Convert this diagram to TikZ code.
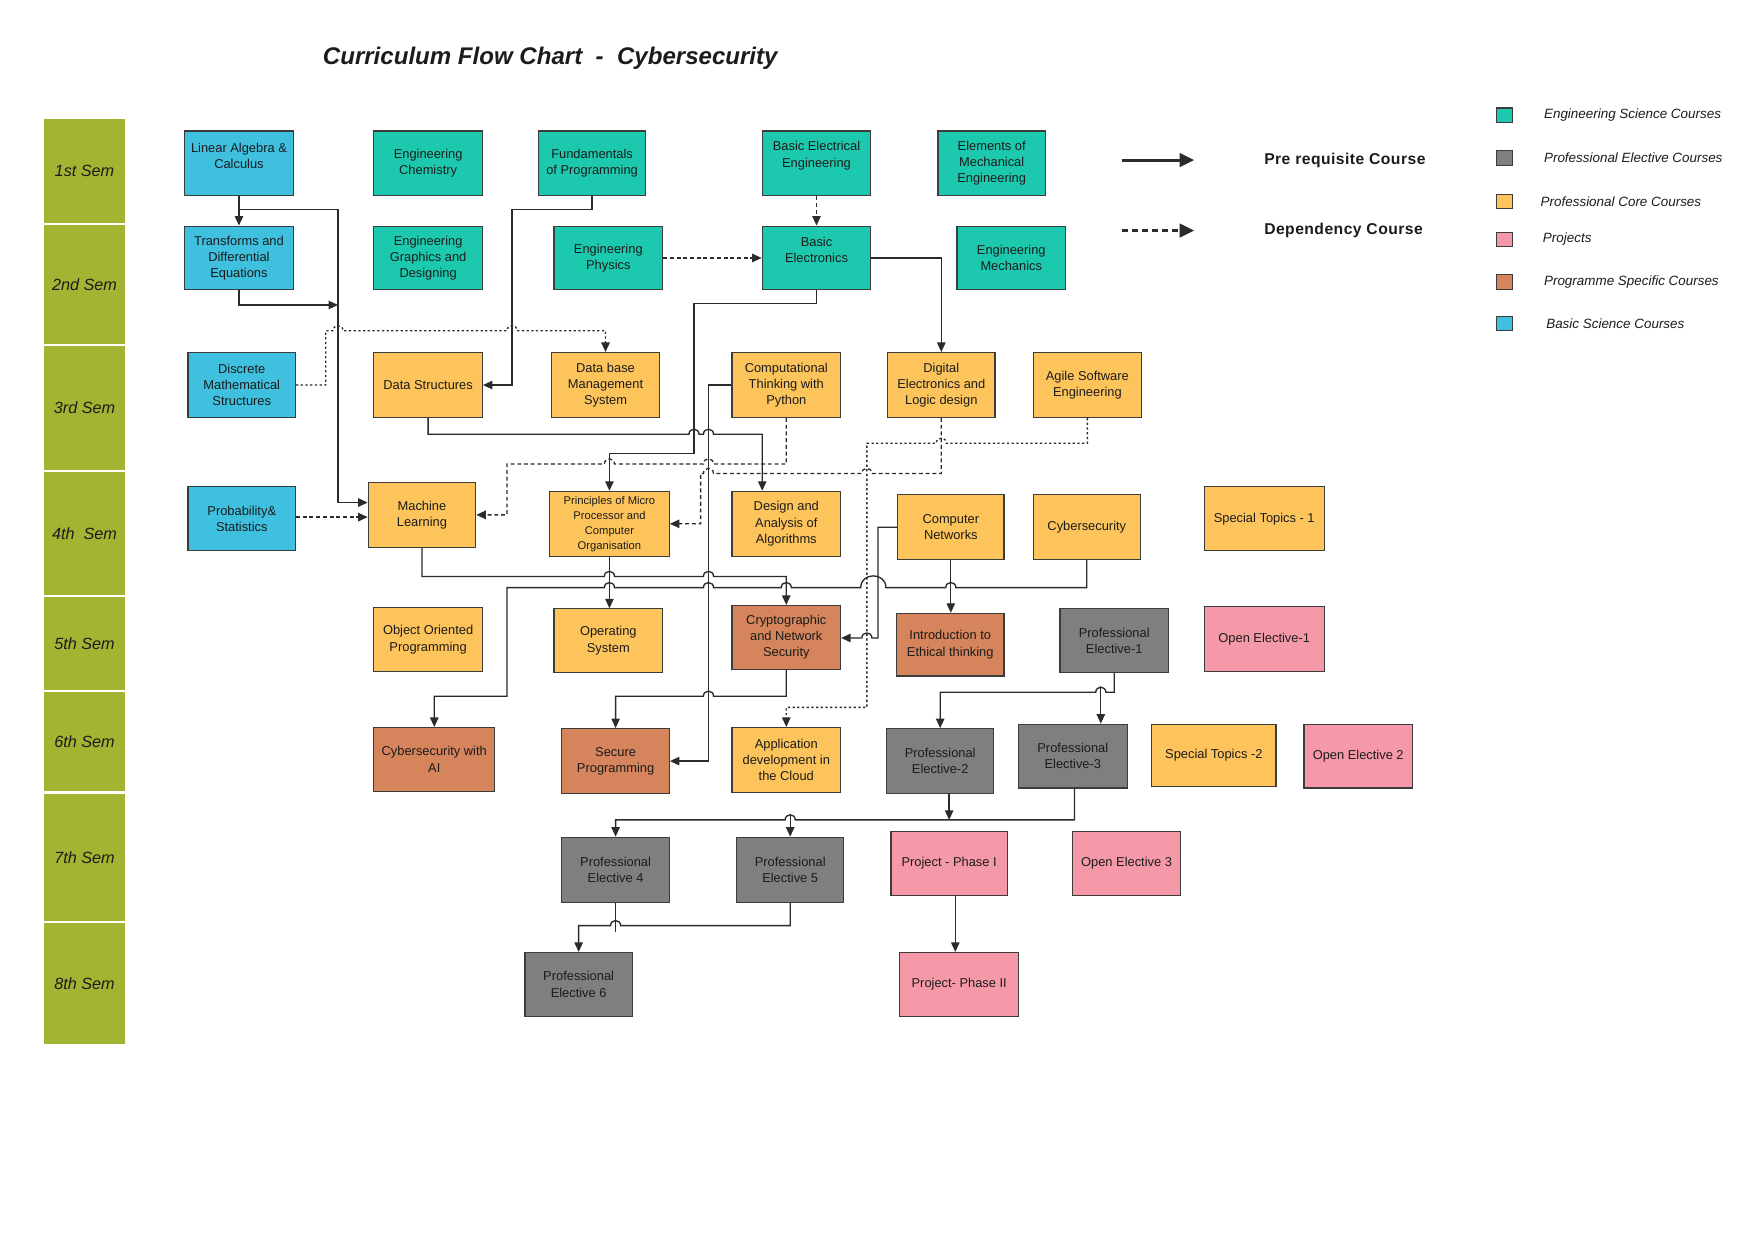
\documentclass[tikz,border=0pt]{standalone}
\usepackage{fontspec}
\setmainfont{Liberation Sans}
\newfontfamily\legfont[LetterSpace=3]{Liberation Sans}
\usetikzlibrary{arrows.meta}
\definecolor{semc}{HTML}{A3B432}
\definecolor{bsc}{HTML}{3EC0DE}
\definecolor{esc}{HTML}{1CC9AE}
\definecolor{pcc}{HTML}{FDC45B}
\definecolor{psc}{HTML}{D5845B}
\definecolor{pec}{HTML}{7F7F7F}
\definecolor{prj}{HTML}{F599A9}
\definecolor{edgec}{HTML}{3C3C3C}
\definecolor{linec}{HTML}{2B2B2B}
\definecolor{txtc}{HTML}{1C1C1C}

\tikzset{
  box/.style={draw=edgec, line width=1pt, inner sep=0pt},
  txt/.style={font=\fontsize{11.5}{14.5}\selectfont, align=center, text=txtc, inner sep=0pt},
  semstyle/.style={fill=semc, minimum width=73pt, inner sep=0pt, text=txtc,
     font=\itshape\fontsize{14.5}{17}\selectfont},
  lnk/.style={draw=linec, line width=1.2pt},
  prq/.style={lnk, -{Triangle[length=8.5pt,width=7.5pt]}},
  depl/.style={prq, dash pattern=on 3.5pt off 2.5pt},
  dotline/.style={prq, dash pattern=on 2pt off 2.2pt},
  legarrow/.style={draw=linec, line width=2.6pt, -{Triangle[length=13pt,width=12pt]}},
  legt/.style={font=\legfont\bfseries\fontsize{14}{17}\selectfont, text=txtc},
  sq/.style={draw=edgec, line width=1pt, minimum width=14pt, minimum height=13pt, inner sep=0pt},
  keyt/.style={font=\itshape\fontsize{12}{14}\selectfont, text=txtc, anchor=west},
}

\newcommand{\course}[9]{%
  \pgfmathsetmacro{\cxA}{(#2+#4)/2}%
  \pgfmathsetmacro{\cyA}{(#3+#5)/2}%
  \pgfmathsetmacro{\cwA}{#4-#2}%
  \pgfmathsetmacro{\chA}{#5-#3}%
  \node[box, fill=#6, minimum width=\cwA pt, minimum height=\chA pt] (#1) at (\cxA,\cyA) {};
  \node[txt,#9] (#1-t) at ([yshift=#8pt]#1.center) {#7};
}
\newcommand{\semrowA}[4]{%
  \pgfmathsetmacro{\syA}{(#2+#3)/2}%
  \pgfmathsetmacro{\shA}{#3-#2}%
  \node[semstyle, minimum height=\shA pt] (#1) at (75.5,\syA) {#4};
}
\newcommand{\hopR}[2]{-- (#1-4.5,#2) .. controls (#1-4.5,#2-6) and (#1+4.5,#2-6) .. (#1+4.5,#2)}
\newcommand{\hopL}[2]{-- (#1+4.5,#2) .. controls (#1+4.5,#2-6) and (#1-4.5,#2-6) .. (#1-4.5,#2)}

\begin{document}
\begin{tikzpicture}[x=1pt,y=-1pt]
\fill[white] (0,0) rectangle (1568,1108);
\useasboundingbox (0,0) rectangle (1568,1108);

% title
\node[anchor=base west, font=\bfseries\itshape\fontsize{21.5}{26}\selectfont, text=txtc] (title) at (285,58) {Curriculum Flow Chart\ \ -\ \ Cybersecurity};

% semesters
\semrowA{s1}{106}{199}{1st Sem}
\semrowA{s2}{201}{307}{2nd Sem}
\semrowA{s3}{309}{420}{3rd Sem}
\semrowA{s4}{422}{531.5}{4th\ \ Sem}
\semrowA{s5}{533.5}{616.5}{5th Sem}
\semrowA{s6}{618.5}{707}{6th Sem}
\semrowA{s7}{709}{823}{7th Sem}
\semrowA{s8}{825}{933}{8th Sem}

% courses
\course{LA}{165}{117}{262}{175}{bsc}{Linear Algebra \&\\Calculus}{7}{}
\course{EC}{334}{117}{431}{175}{esc}{Engineering\\Chemistry}{0}{}
\course{FoP}{481}{117}{577}{175}{esc}{Fundamentals\\of Programming}{0}{}
\course{BEE}{681}{117}{778}{175}{esc}{Basic Electrical\\Engineering}{7}{}
\course{EME}{838}{117}{934}{175}{esc}{Elements of\\Mechanical\\Engineering}{0}{}
\course{TDE}{165}{202}{262}{259}{bsc}{Transforms and\\Differential\\Equations}{0}{}
\course{EGD}{334}{202}{431}{259}{esc}{Engineering\\Graphics and\\Designing}{0}{}
\course{EP}{495}{202}{592}{259}{esc}{Engineering\\Physics}{0}{}
\course{BE}{681}{202}{778}{259}{esc}{Basic\\Electronics}{7}{}
\course{EM}{855}{202}{952}{259}{esc}{Engineering\\Mechanics}{0}{}
\course{DMS}{168}{315}{264}{373}{bsc}{Discrete\\Mathematical\\Structures}{0}{}
\course{DS}{334}{315}{431}{373}{pcc}{Data Structures}{0}{}
\course{DBMS}{493}{315}{589}{373}{pcc}{Data base\\Management\\System}{0}{}
\course{CTP}{654}{315}{751}{373}{pcc}{Computational\\Thinking with\\Python}{0}{}
\course{DE}{793}{315}{889}{373}{pcc}{Digital\\Electronics and\\Logic design}{0}{}
\course{ASE}{923}{315}{1020}{373}{pcc}{Agile Software\\Engineering}{0}{}
\course{PS}{168}{435}{264}{492}{bsc}{Probability\&\\Statistics}{0}{}
\course{ML}{329}{431}{425}{489}{pcc}{Machine\\Learning}{0}{}
\course{PMP}{491}{439}{598}{497}{pcc}{Principles of Micro\\Processor and\\Computer\\Organisation}{0}{font=\fontsize{10}{13.3}\selectfont}
\course{DAA}{654}{439}{751}{497}{pcc}{Design and\\Analysis of\\Algorithms}{0}{}
\course{CN}{802}{442}{897}{500}{pcc}{Computer\\Networks}{0}{}
\course{CY}{923}{442}{1019}{500}{pcc}{Cybersecurity}{0}{}
\course{ST1}{1076}{435}{1183}{492}{pcc}{Special Topics - 1}{0}{}
\course{OOP}{334}{543}{431}{600}{pcc}{Object Oriented\\Programming}{0}{}
\course{OS}{495}{544}{592}{601}{pcc}{Operating\\System}{0}{}
\course{CNS}{654}{541}{751}{598}{psc}{Cryptographic\\and Network\\Security}{0}{}
\course{IET}{801}{548}{897}{604}{psc}{Introduction to\\Ethical thinking}{0}{}
\course{PE1}{947}{544}{1044}{601}{pec}{Professional\\Elective-1}{0}{}
\course{OE1}{1076}{542}{1183}{600}{prj}{Open Elective-1}{0}{}
\course{CAI}{334}{650}{442}{707}{psc}{Cybersecurity with\\AI}{0}{}
\course{SP}{502}{651}{598}{709}{psc}{Secure\\Programming}{0}{}
\course{ADC}{654}{650}{751}{708}{pcc}{Application\\development in\\the Cloud}{0}{}
\course{PE2}{792}{651}{888}{709}{pec}{Professional\\Elective-2}{0}{}
\course{PE3}{910}{647}{1007}{704}{pec}{Professional\\Elective-3}{0}{}
\course{ST2}{1029}{647}{1140}{703}{pcc}{Special Topics -2}{0}{}
\course{OE2}{1165}{647}{1262}{704}{prj}{Open Elective 2}{0}{}
\course{PE4}{502}{748}{598}{806}{pec}{Professional\\Elective 4}{0}{}
\course{PE5}{658}{748}{754}{806}{pec}{Professional\\Elective 5}{0}{}
\course{PP1}{796}{743}{900}{800}{prj}{Project - Phase I}{0}{}
\course{OE3}{958}{743}{1055}{800}{prj}{Open Elective 3}{0}{}
\course{PE6}{469}{851}{565}{908}{pec}{Professional\\Elective 6}{0}{}
\course{PP2}{804}{851}{910}{908}{prj}{Project- Phase II}{0}{}

% connectors
\draw[prq] (LA.south) -- (TDE.north);
\draw[prq] (LA.south) -- (213.5,187) -- (302,187) -- (302,449) -- (ML.west |- 0,449);
\draw[prq] (TDE.south) -- (213.5,272.5) -- (302,272.5);
\draw[dotline] (DMS.east) -- (291,344) -- (291,295.5) \hopR{302}{295.5} \hopR{457.5}{295.5} -- (541,295.5) -- (DBMS.north);
\draw[prq] (FoP.south) -- (529,187) -- (457.5,187) -- (457.5,344) -- (DS.east);
\draw[depl] (BEE.south) -- (BE.north);
\draw[depl] (EP.east) -- (BE.west);
\draw[prq] (BE.east) -- (841,230.5) -- (DE.north);
\draw[prq] (BE.south) -- (729.5,271) -- (620,271) -- (620,405) -- (544.5,405) -- (PMP.north);
\draw[prq] (DS.south) -- (382.5,388) \hopR{620}{388} \hopR{633}{388} -- (681,388) -- (681,0 |- DAA.north);
\draw[prq] (CTP.west) -- (633,344) -- (633,680) -- (SP.east);
\draw[depl] (CTP.south) -- (702.5,414.5) \hopL{633}{414.5} \hopL{544.5}{414.5} -- (453,414.5) -- (453,460) -- (ML.east);
\draw[depl] (DE.south) -- (841,423) \hopL{774.5}{423} \hopL{633}{423} -- (626,423) -- (626,468) -- (PMP.east);
\draw[dotline] (ASE.south) -- (971.5,396) \hopL{841}{396} -- (774.5,396) -- (774.5,632) -- (702.5,632) -- (ADC.north);
\draw[prq] (ML.south) -- (377,515) \hopR{544.5}{515} \hopR{633}{515} -- (702.5,515) -- (CNS.north);
\draw[prq] (CY.south) -- (971,525) \hopL{849.5}{525} -- (791.5,525) .. controls (791.5,511) and (769,511) .. (769,525) \hopL{702.5}{525} \hopL{633}{525} \hopL{544.5}{525} -- (453,525) -- (453,622) -- (388,622) -- (CAI.north);
\draw[prq] (CN.west) -- (784.5,471) -- (784.5,570) \hopL{774.5}{570} -- (CNS.east |- 0,570);
\draw[prq] (CN.south) -- (CN.south |- IET.north);
\draw[prq] (PMP.south) -- (PMP.south |- OS.north);
\draw[prq] (CNS.south) -- (702.5,622) \hopL{633}{622} -- (550,622) -- (SP.north);
\draw[prq] (PE1.south) -- (995.5,618.5) \hopL{983.5}{618.5} -- (840,618.5) -- (PE2.north);
\coordinate (j3) at (983.5,613);
\draw[prq] (j3) -- (j3 |- PE3.north);
\draw[prq] (960,0 |- PE3.south) -- (960,732.5) \hopL{706}{732.5} -- (550,732.5) -- (PE4.north);
\coordinate (j5) at (706,727);
\draw[prq] (j5) -- (j5 |- PE5.north);
\draw[prq] (848,0 |- PE2.south) -- (848,732.5);
\draw[prq] (PE5.south) -- (706,827) \hopL{550}{827} -- (517,827) -- (PE6.north);
\draw[lnk] (PE4.south) -- (550,833);
\draw[prq] (853.5,0 |- PP1.south) -- (853.5,0 |- PP2.north);
\draw[depl] (PS.east |- 0,462) -- (ML.west |- 0,462);

% legend arrows
\coordinate (lp1) at (1002,143); \coordinate (lp2) at (1067,143);
\draw[legarrow] (lp1) -- (lp2);
\coordinate (ld1) at (1002,206); \coordinate (ld2) at (1067,206);
\draw[legarrow, dash pattern=on 5.5pt off 3.5pt] (ld1) -- (ld2);
\node[legt, anchor=west] (lpt) at (1126,143) {Pre requisite Course};
\node[legt, anchor=west] (ldt) at (1126,206) {Dependency Course};

% colour key
\node[sq, fill=esc] (k1) at (1344,103) {};
\node[sq, fill=pec] (k2) at (1344,141) {};
\node[sq, fill=pcc] (k3) at (1344,180) {};
\node[sq, fill=prj] (k4) at (1344,214) {};
\node[sq, fill=psc] (k5) at (1344,252) {};
\node[sq, fill=bsc] (k6) at (1344,289) {};
\node[keyt] (k1t) at (1376,103) {Engineering Science Courses};
\node[keyt] (k2t) at (1376,141) {Professional Elective Courses};
\node[keyt] (k3t) at (1373,180) {Professional Core Courses};
\node[keyt] (k4t) at (1375,214) {Projects};
\node[keyt] (k5t) at (1376,252) {Programme Specific Courses};
\node[keyt] (k6t) at (1378,289) {Basic Science Courses};
\end{tikzpicture}
\end{document}
